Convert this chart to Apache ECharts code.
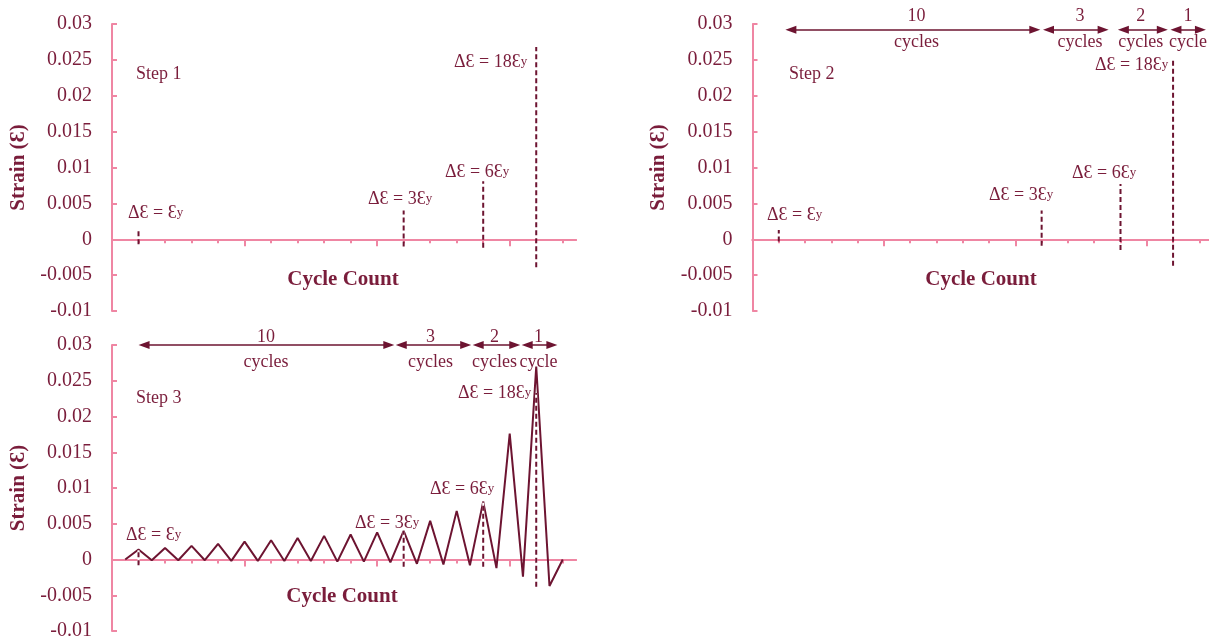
<!DOCTYPE html>
<html>
<head>
<meta charset="utf-8">
<title>Loading protocol - Step 1 / 2 / 3</title>
<script src="https://cdn.jsdelivr.net/npm/echarts@6/dist/echarts.min.js"></script>
<style>
html, body { margin: 0; padding: 0; background: #ffffff; }
#chart { width: 1209px; height: 638px; }
</style>
</head>
<body>
<div id="chart"></div>
<script>
// ---- data ----
// step 3 zigzag: start point, one peak per cycle, one valley after each peak, end point
const startAt = [0.5, 0];
const peakAt = [1, 2, 3, 4, 5, 6, 7, 8, 9, 10, 11, 12, 13, 14, 15, 16];
const peakStrain = [0.0014, 0.0016, 0.0019, 0.0022, 0.0025, 0.0027, 0.0030, 0.0033, 0.0035, 0.0038, 0.0040, 0.0054, 0.0068, 0.0081, 0.0176, 0.0270];
const valleyAt = [1.5, 2.5, 3.5, 4.5, 5.5, 6.5, 7.5, 8.5, 9.5, 10.5, 11.5, 12.5, 13.5, 14.5, 15.5, 16.5];
const valleyStrain = [-0.0001, -0.0001, -0.0001, -0.0002, -0.0002, -0.0002, -0.0002, -0.0003, -0.0003, -0.0004, -0.0006, -0.0007, -0.0008, -0.0012, -0.0024, -0.0037];
const endAt = [17, 0];

// dashed markers ΔƐ = Ɛy, 3Ɛy, 6Ɛy, 18Ɛy
const markerCycle = [1, 11, 14, 16];
const markerText = ['ΔƐ = Ɛ', 'ΔƐ = 3Ɛ', 'ΔƐ = 6Ɛ', 'ΔƐ = 18Ɛ'];
const markerTop1 = [0.0014, 0.0040, 0.0081, 0.0268];
const markerBottom1 = [-0.0007, -0.0010, -0.0012, -0.0039];
const markerTop2 = [0.0013, 0.0040, 0.0077, 0.0250];
const markerBottom2 = [-0.0003, -0.0009, -0.0015, -0.0037];
const markerTop3 = [0.0013, 0.0040, 0.0081, 0.0233];
const markerBottom3 = [-0.0008, -0.0010, -0.0010, -0.0038];

// cycle groups (arrow tips, in cycles)
const groupCount = ['10', '3', '2', '1'];
const groupWord = ['cycles', 'cycles', 'cycles', 'cycle'];
const groupFrom2 = [1.25, 11.05, 13.9, 15.9];
const groupTo2 = [10.95, 13.55, 15.8, 17.25];
const groupLevel2 = 0.0292;
const groupFrom3 = [1.0, 10.7, 13.6, 15.45];
const groupTo3 = [10.65, 13.55, 15.4, 16.8];
const groupLevel3 = 0.03;

const stepTitles = ['Step 1', 'Step 2', 'Step 3'];
const xTitle = 'Cycle Count';
const yTitle = 'Strain (Ɛ)';
const minorTicks = [1, 2, 3, 4, 6, 7, 8, 9, 11, 12, 13, 14, 16, 17];
const majorTicks = [5, 10, 15];

// ---- styles ----
const textColor = '#7a1d3b';
const lineColor = '#6d1431';
const axisColor = '#ef86a3';
const serif = '"Liberation Serif", "Times New Roman", "DejaVu Serif", serif';

const chart = echarts.init(document.getElementById('chart'));

const grids = [
   { left: 112, top: 24, width: 464, height: 287, outerBoundsMode: 'none', containLabel: false },
   { left: 752.5, top: 24, width: 460, height: 287, outerBoundsMode: 'none', containLabel: false },
   { left: 112, top: 345, width: 464, height: 286, outerBoundsMode: 'none', containLabel: false }
];

// two x axes per grid: short ticks every cycle, longer ones every 5 cycles
const makeXAxis = (gridIndex, major) => ({
   type: 'value',
   gridIndex,
   min: 0,
   max: 17.5,
   position: 'bottom',
   axisLine: { show: true, onZero: true, onZeroAxisIndex: gridIndex, lineStyle: { color: axisColor, width: 2 } },
   axisTick: {
      show: true,
      customValues: major ? majorTicks : minorTicks,
      length: major ? 7 : 4,
      lineStyle: { color: axisColor, width: 2 }
   },
   axisLabel: { show: false },
   splitLine: { show: false }
});

const makeYAxis = (gridIndex) => ({
   type: 'value',
   gridIndex,
   min: -0.01,
   max: 0.03,
   interval: 0.005,
   axisLine: { show: true, lineStyle: { color: axisColor, width: 2 } },
   axisTick: { show: true, inside: true, length: 5, lineStyle: { color: axisColor, width: 2 } },
   axisLabel: { color: textColor, fontFamily: serif, fontSize: 20, margin: 20 },
   splitLine: { show: false },
   name: yTitle,
   nameLocation: 'middle',
   nameGap: 83,
   nameTextStyle: { color: textColor, fontFamily: serif, fontSize: 21, fontWeight: 'bold' }
});

const zigzag = [startAt];
peakAt.forEach((x, i) => {
   zigzag.push([x, peakStrain[i]]);
   zigzag.push([valleyAt[i], valleyStrain[i]]);
});
zigzag.push(endAt);

const markerTops = [markerTop1, markerTop2, markerTop3];
const markerBottoms = [markerBottom1, markerBottom2, markerBottom3];

const series = [];
series.push({
   type: 'line',
   name: 'strain history',
   xAxisIndex: 4,
   yAxisIndex: 2,
   data: zigzag,
   symbol: 'none',
   lineStyle: { color: lineColor, width: 2 },
   z: 2,
   silent: true,
   animation: false
});

markerCycle.forEach((x, i) => {
   // white under the dashes, so the gaps show inside the spikes
   series.push({
      type: 'line',
      xAxisIndex: 4,
      yAxisIndex: 2,
      data: [[x, markerBottom3[i]], [x, markerTop3[i]]],
      symbol: 'none',
      lineStyle: { color: '#ffffff', width: 2 },
      z: 3,
      silent: true,
      animation: false
   });
});

[0, 1, 2].forEach((g) => {
   markerCycle.forEach((x, i) => {
      series.push({
         type: 'line',
         xAxisIndex: g * 2,
         yAxisIndex: g,
         data: [[x, markerBottoms[g][i]], [x, markerTops[g][i]]],
         symbol: 'none',
         lineStyle: { color: lineColor, width: 2, type: [5, 3] },
         z: 4,
         silent: true,
         animation: false
      });
   });
});

// arrows for the cycle groups (step 2 and 3)
const tipInset = 0.21;
const arrowSeries = (g, from, to, level) => ({
   type: 'line',
   xAxisIndex: g * 2,
   yAxisIndex: g,
   data: [[from[0], level]],
   symbol: 'none',
   lineStyle: { opacity: 0 },
   clip: false,
   silent: true,
   animation: false,
   markLine: {
      silent: true,
      animation: false,
      symbol: ['triangle', 'triangle'],
      symbolSize: [8, 11],
      label: { show: false },
      lineStyle: { color: lineColor, width: 1.5, type: 'solid' },
      data: from.map((a, i) => [
         { coord: [a + tipInset, level] },
         { coord: [to[i] - tipInset, level] }
      ])
   }
});
series.push(arrowSeries(1, groupFrom2, groupTo2, groupLevel2));
series.push(arrowSeries(2, groupFrom3, groupTo3, groupLevel3));

// ---- text placed on the page ----
const rich = {
   m: { fontSize: 18, lineHeight: 22, fontFamily: serif, fill: textColor },
   s: { fontSize: 13, lineHeight: 8, fontFamily: serif, fill: textColor }
};
const markerTextPos = [
   [[128, 213], [368, 199], [445, 172], [454, 62]],
   [[767, 215], [989, 195], [1072, 173], [1095, 65]],
   [[126, 535], [355, 523], [430, 489], [458, 393]]
];
const stepTitlePos = [[136, 74], [789, 74], [136, 398]];
const xTitlePos = [[343, 280], [981, 280], [342, 597]];
const groupTextX = [
   [916.5, 1080, 1140.7, 1188],
   [266, 430.5, 494.5, 538.5]
];
const groupTextY = [[16, 42], [337, 362]];

const graphic = [];
stepTitles.forEach((t, g) => {
   graphic.push({
      type: 'text', x: stepTitlePos[g][0], y: stepTitlePos[g][1], silent: true,
      style: { text: t, fill: textColor, font: '18px ' + serif, align: 'left', verticalAlign: 'middle' }
   });
   graphic.push({
      type: 'text', x: xTitlePos[g][0], y: xTitlePos[g][1], silent: true,
      style: { text: xTitle, fill: textColor, font: 'bold 21px ' + serif, align: 'center', verticalAlign: 'middle' }
   });
   markerText.forEach((txt, i) => {
      graphic.push({
         type: 'text', x: markerTextPos[g][i][0], y: markerTextPos[g][i][1], silent: true,
         style: {
            text: '{m|' + txt + '}{s|y}', rich, fill: textColor,
            font: '18px ' + serif, align: 'left', verticalAlign: 'middle'
         }
      });
   });
});
groupTextX.forEach((xs, k) => {
   xs.forEach((x, i) => {
      graphic.push({
         type: 'text', x, y: groupTextY[k][0], silent: true,
         style: { text: groupCount[i], fill: textColor, font: '18px ' + serif, align: 'center', verticalAlign: 'middle' }
      });
      graphic.push({
         type: 'text', x, y: groupTextY[k][1], silent: true,
         style: { text: groupWord[i], fill: textColor, font: '18px ' + serif, align: 'center', verticalAlign: 'middle' }
      });
   });
});

chart.setOption({
   backgroundColor: '#ffffff',
   animation: false,
   grid: grids,
   xAxis: [
      makeXAxis(0, false), makeXAxis(0, true),
      makeXAxis(1, false), makeXAxis(1, true),
      makeXAxis(2, false), makeXAxis(2, true)
   ],
   yAxis: [makeYAxis(0), makeYAxis(1), makeYAxis(2)],
   series,
   graphic
});
</script>
</body>
</html>
